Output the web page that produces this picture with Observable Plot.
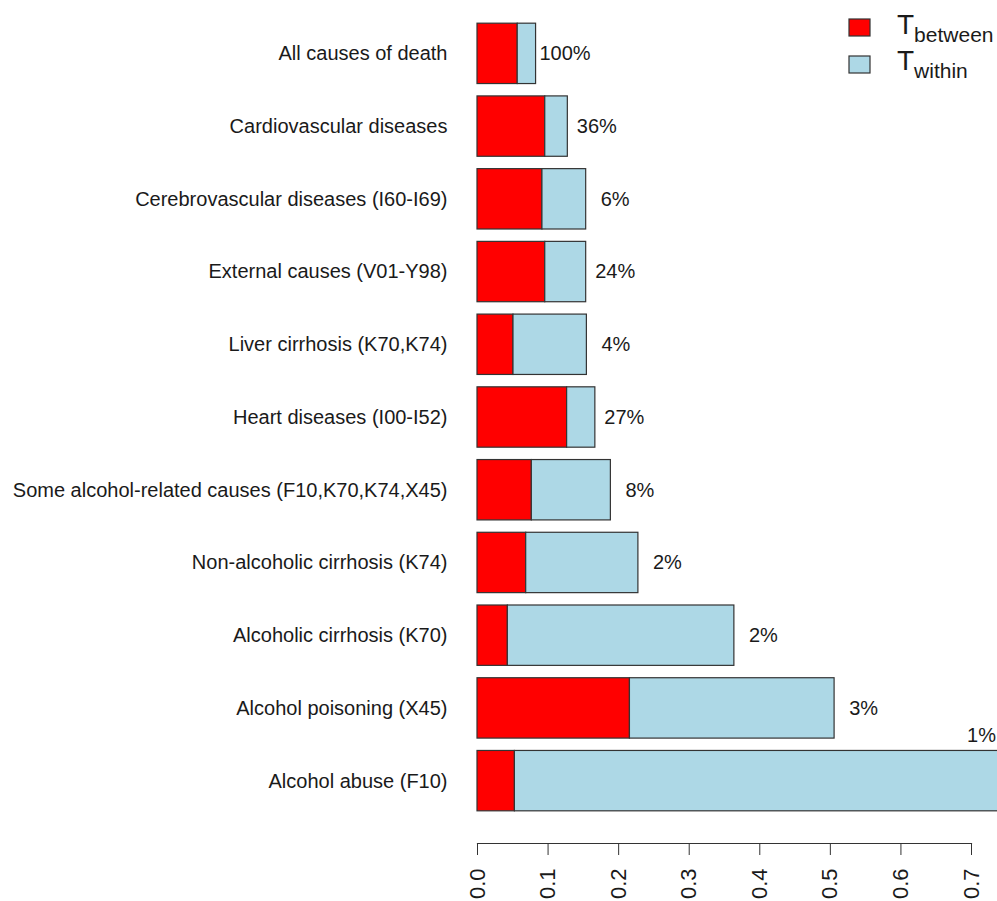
<!DOCTYPE html>
<html><head><meta charset="utf-8">
<script src="https://cdn.jsdelivr.net/npm/d3@7"></script>
<script src="https://cdn.jsdelivr.net/npm/@observablehq/plot@0.6"></script>
<style>
body{margin:0;background:#fff;overflow:hidden;}
#wrap{position:relative;width:997px;height:901px;overflow:hidden;font-family:'Liberation Sans',Arial,sans-serif;}
#legend{position:absolute;left:0;top:0;}
</style></head><body><div id="wrap"></div>
<script>
const causes = [
  "All causes of death",
  "Cardiovascular diseases",
  "Cerebrovascular diseases (I60-I69)",
  "External causes (V01-Y98)",
  "Liver cirrhosis (K70,K74)",
  "Heart diseases (I00-I52)",
  "Some alcohol-related causes (F10,K70,K74,X45)",
  "Non-alcoholic cirrhosis (K74)",
  "Alcoholic cirrhosis (K70)",
  "Alcohol poisoning (X45)",
  "Alcohol abuse (F10)"
];
const tBetween = [0.057, 0.096, 0.092, 0.096, 0.051, 0.127, 0.077, 0.069, 0.043, 0.216, 0.053];
const tTotal   = [0.083, 0.128, 0.154, 0.154, 0.155, 0.167, 0.189, 0.228, 0.364, 0.506, 0.78];
const shares   = ["100%", "36%", "6%", "24%", "4%", "27%", "8%", "2%", "2%", "3%", "1%"];
const seriesNames = ["T between", "T within"];
const seriesColors = ["#ff0000", "#add8e6"];
const xTicks = [0, 0.1, 0.2, 0.3, 0.4, 0.5, 0.6, 0.7];
const xMax = 0.7;

const rows = [];
causes.forEach((c, i) => {
  rows.push({cause: c, series: seriesNames[0], value: tBetween[i]});
  rows.push({cause: c, series: seriesNames[1], value: tTotal[i] - tBetween[i]});
});
const labels = causes.map((c, i) => ({cause: c, total: tTotal[i], share: shares[i]}));
const inside = labels.filter(d => d.total + 0.04 <= xMax);
const outside = labels.filter(d => d.total + 0.04 > xMax).map(d => ({...d, total: xMax}));

const plot = Plot.plot({
  width: 997, height: 901,
  marginLeft: 477, marginRight: 26, marginTop: 17, marginBottom: 58,
  style: {fontFamily: "'Liberation Sans', Arial, sans-serif", fontSize: "20px", color: "#1a1a1a", background: "#fff", overflow: "hidden"},
  x: {domain: [0, xMax]},
  y: {domain: causes, range: [17, 817], paddingInner: 0.17, paddingOuter: 0.085, round: false},
  color: {domain: seriesNames, range: seriesColors},
  marks: [
    Plot.barX(rows, {x: "value", y: "cause", fill: "series", stroke: "#333", strokeWidth: 1.2}),
    Plot.frame({anchor: "bottom", stroke: "#333", strokeWidth: 1.2}),
    Plot.axisX({ticks: xTicks, tickSize: 12, tickPadding: 13, tickRotate: -90, tickFormat: d3.format(".1f"), label: null, fontSize: 22, stroke: "#333"}),
    Plot.axisY({tickSize: 0, tickPadding: 30, label: null, fontSize: 20}),
    Plot.text(inside, {x: "total", y: "cause", text: "share", dx: 29, textAnchor: "middle", fontSize: 20}),
    Plot.text(outside, {x: "total", y: "cause", text: "share", dx: 10, dy: -46, textAnchor: "middle", fontSize: 20})
  ]
});
const wrap = document.getElementById("wrap");
wrap.appendChild(plot);

// legend overlay
const ns = "http://www.w3.org/2000/svg";
const leg = document.createElementNS(ns, "svg");
leg.setAttribute("id", "legend");
leg.setAttribute("width", 997);
leg.setAttribute("height", 100);
seriesNames.forEach((name, i) => {
  const r = document.createElementNS(ns, "rect");
  r.setAttribute("x", 849); r.setAttribute("y", 19 + i * 37);
  r.setAttribute("width", 21); r.setAttribute("height", 17);
  r.setAttribute("fill", seriesColors[i]); r.setAttribute("stroke", "#333"); r.setAttribute("stroke-width", 1.2);
  leg.appendChild(r);
  const t = document.createElementNS(ns, "text");
  t.setAttribute("x", 897); t.setAttribute("y", 34 + i * 36);
  t.setAttribute("font-size", 28); t.setAttribute("fill", "#1a1a1a");
  t.textContent = name.split(" ")[0];
  const s = document.createElementNS(ns, "tspan");
  s.setAttribute("font-size", 21); s.setAttribute("dy", 8);
  s.textContent = name.split(" ")[1];
  t.appendChild(s);
  leg.appendChild(t);
});
wrap.appendChild(leg);
</script></body></html>
